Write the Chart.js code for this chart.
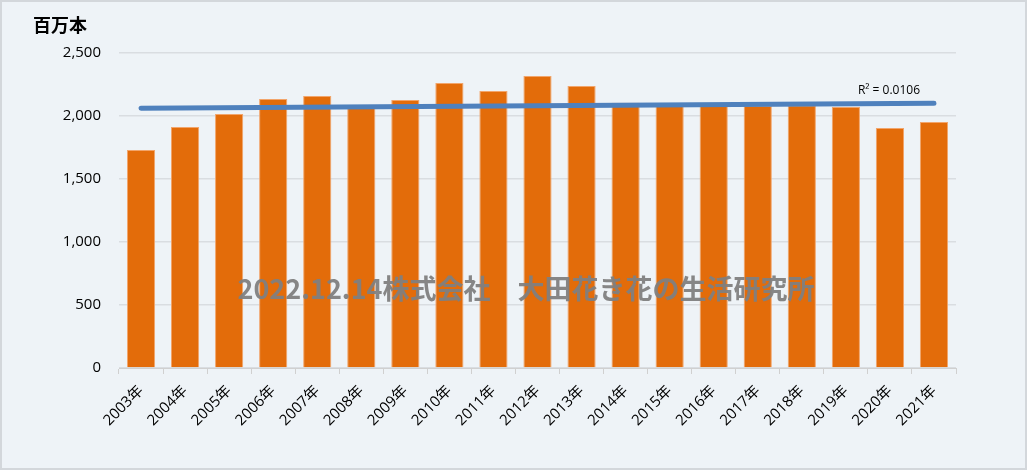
<!DOCTYPE html>
<html>
<head>
<meta charset="utf-8">
<script src="https://cdn.jsdelivr.net/npm/chart.js@4"></script>
<style>
  body { margin: 0; background: #ffffff; }
  canvas { display: block; }
</style>
</head>
<body>
<canvas id="chart" width="1027" height="470"></canvas>
<script>
// categories and values (百万本)
const years = ['2003年', '2004年', '2005年', '2006年', '2007年', '2008年', '2009年', '2010年',
    '2011年', '2012年', '2013年', '2014年', '2015年', '2016年', '2017年', '2018年',
    '2019年', '2020年', '2021年'];
const stems = [1730, 1913, 2016, 2135, 2159, 2075, 2127, 2262, 2198, 2317, 2238, 2105,
    2085, 2080, 2080, 2085, 2071, 1905, 1952];
// linear trendline: value at first and last year
const trendYears = ['2003年', '2021年'];
const trendValues = [2062, 2102];
const trendLabel = 'R² = 0.0106';
const unitLabel = '百万本';
const watermark = '2022.12.14株式会社　大田花き花の生活研究所';

const FONT = "'Open Sans', 'Noto Sans CJK JP', sans-serif";
const JP_FONT = "'Noto Sans CJK JP', sans-serif";

const backgroundPlugin = {
    id: 'background',
    beforeDraw(chart) {
        const ctx = chart.ctx;
        ctx.save();
        ctx.fillStyle = '#eef3f7';
        ctx.fillRect(0, 0, chart.width, chart.height);
        ctx.strokeStyle = '#d3d7db';
        ctx.lineWidth = 2;
        ctx.strokeRect(1, 1, chart.width - 2, chart.height - 2);
        ctx.restore();
    }
};

const textPlugin = {
    id: 'extraText',
    afterDraw(chart) {
        const ctx = chart.ctx;
        const x = chart.scales.x;
        const y = chart.scales.y;
        ctx.save();
        // unit label
        ctx.fillStyle = '#000000';
        ctx.font = "bold 18px " + JP_FONT;
        ctx.textBaseline = 'middle';
        ctx.textAlign = 'left';
        ctx.fillText(unitLabel, 33, 25);
        // R² label above trendline end
        ctx.font = "12px " + FONT;
        ctx.textAlign = 'center';
        ctx.fillText(trendLabel, x.getPixelForValue(years.length - 1) - 45, y.getPixelForValue(trendValues[1]) - 13);
        // watermark
        ctx.fillStyle = 'rgba(128, 128, 128, 0.95)';
        ctx.font = "bold 27px " + JP_FONT;
        ctx.textAlign = 'center';
        ctx.fillText(watermark, 526, 289);
        ctx.restore();
    }
};

new Chart(document.getElementById('chart'), {
    data: {
        labels: years,
        datasets: [{
            type: 'line',
            label: 'trend',
            data: trendYears.map((yr, i) => ({ x: yr, y: trendValues[i] })),
            borderColor: '#4f81bd',
            borderWidth: 5,
            borderCapStyle: 'round',
            pointRadius: 0,
            order: 0
        }, {
            type: 'bar',
            label: 'stems',
            data: stems,
            backgroundColor: '#e36c0a',
            borderColor: '#f2a56b',
            borderWidth: 1,
            barPercentage: 0.64,
            categoryPercentage: 1,
            order: 1
        }]
    },
    plugins: [backgroundPlugin, textPlugin],
    options: {
        responsive: false,
        animation: false,
        layout: {
            padding: { top: 53, right: 71, bottom: 0, left: 0 }
        },
        plugins: {
            legend: { display: false },
            tooltip: { enabled: false }
        },
        scales: {
            x: {
                offset: true,
                grid: {
                    offset: true,
                    drawOnChartArea: false,
                    color: '#d0d0d0',
                    tickLength: 6
                },
                border: { color: '#d0d0d0', width: 1 },
                ticks: {
                    color: '#000000',
                    font: { family: FONT, size: 15 },
                    minRotation: 45,
                    maxRotation: 45,
                    padding: 8
                },
                afterFit(scale) { scale.height = 102; }
            },
            y: {
                min: 0,
                max: 2500,
                ticks: {
                    stepSize: 500,
                    color: '#000000',
                    padding: 18,
                    font: { family: FONT, size: 15 },
                    callback: (value) => value.toLocaleString('en-US')
                },
                grid: {
                    color: '#d9dde1',
                    lineWidth: 1.5,
                    drawTicks: false
                },
                border: { display: false },
                afterFit(scale) { scale.width = 119; }
            }
        }
    }
});
</script>
</body>
</html>
